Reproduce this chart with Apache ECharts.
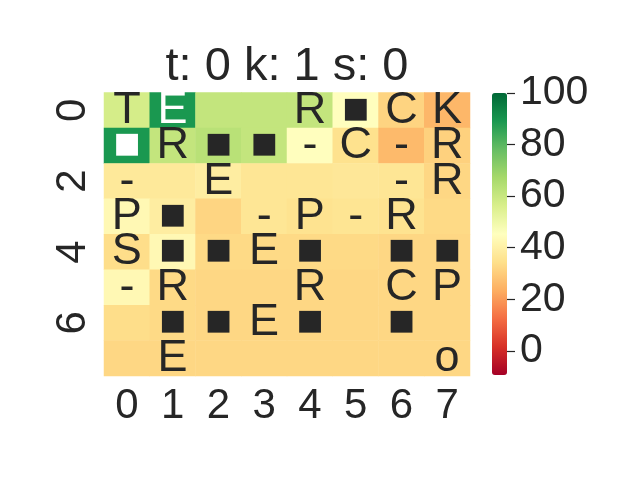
<!DOCTYPE html>
<html>
<head>
<meta charset="utf-8">
<script src="https://cdn.jsdelivr.net/npm/echarts@6/dist/echarts.min.js"></script>
<style>html,body{margin:0;padding:0;background:#fff;}#c{width:640px;height:480px;}</style>
</head>
<body>
<div id="c"></div>
<script>
const xCategories = ['0','1','2','3','4','5','6','7'];
const yCategories = ['0','1','2','3','4','5','6','7'];
// values[row][col]
const values = [
  [57, 89, 61, 61, 61, 45, 31.7, 25.4],
  [89, 61, 63, 61, 45, 35, 26, 31],
  [37.5, 37.5, 39, 36.5, 36.5, 37, 36.5, 32.5],
  [43, 39, 32, 36.5, 35.5, 36, 35.5, 33],
  [34, 43, 33, 33, 33, 33, 32.5, 32.5],
  [43, 33, 32.5, 32.5, 32.5, 32.5, 32.5, 32.5],
  [34, 33, 32.5, 32.5, 32.5, 32.5, 32.5, 32.5],
  [32.5, 32.5, 32.5, 32.5, 32.5, 32.5, 32.5, 32.5]
];
const annotations = [
  ['T','E','','','R','■','C','K'],
  ['■','R','■','■','-','C','-','R'],
  ['-','','E','','','','-','R'],
  ['P','■','','-','P','-','R',''],
  ['S','■','■','E','■','','■','■'],
  ['-','R','','','R','','C','P'],
  ['','■','■','E','■','','■',''],
  ['','E','','','','','','o']
];
const colorbarTicks = [0, 20, 40, 60, 80, 100];
const vmin = -9.4, vmax = 100;
const titleText = 't: 0 k: 1 s: 0';

const rdylgn = ['#a50026','#d73027','#f46d43','#fdae61','#fee08b','#ffffbf','#d9ef8b','#a6d96a','#66bd63','#1a9850','#006837'];

const data = [];
for (let r = 0; r < values.length; r++) {
  for (let c = 0; c < values[r].length; c++) {
    const v = values[r][c];
    data.push({value: [c, r, v], label: {color: v > 75 ? '#ffffff' : '#262626'}});
  }
}

const font = "'Liberation Sans', Arial, 'DejaVu Sans', sans-serif";
const chart = echarts.init(document.getElementById('c'), null, {renderer: 'canvas'});
chart.setOption({
  backgroundColor: '#ffffff',
  animation: false,
  graphic: [{
    type: 'text', x: 287, y: 67,
    style: {text: titleText, fontSize: 47, fontFamily: font, fill: '#262626', align: 'center', verticalAlign: 'middle'}
  }],
  grid: [
    {left: 104, top: 92.5, width: 366, height: 283.5},
    {left: 492, top: 93, width: 15, height: 282}
  ],
  xAxis: [
    {type: 'category', data: xCategories, gridIndex: 0, position: 'bottom',
     axisLine: {show: false}, axisTick: {show: false}, splitLine: {show: false},
     axisLabel: {fontSize: 42, color: '#262626', margin: 9, fontFamily: font}},
    {type: 'category', data: ['a'], gridIndex: 1, show: false}
  ],
  yAxis: [
    {type: 'category', data: yCategories, gridIndex: 0, inverse: true,
     axisLine: {show: false}, axisTick: {show: false}, splitLine: {show: false},
     axisLabel: {interval: 1, rotate: 90, fontSize: 42, color: '#262626', margin: 10, fontFamily: font}},
    {type: 'value', gridIndex: 1, min: vmin, max: vmax, position: 'right',
     axisLine: {show: false}, splitLine: {show: false},
     axisTick: {show: true, length: 8, customValues: colorbarTicks, lineStyle: {color: '#262626', width: 1.2}},
     axisLabel: {customValues: colorbarTicks, fontSize: 41, color: '#262626', margin: 13, fontFamily: font}}
  ],
  visualMap: {
    type: 'continuous', min: vmin, max: vmax, seriesIndex: 0,
    left: 492, top: 93, itemWidth: 15, itemHeight: 282, padding: 0,
    calculable: false, text: null, showLabel: false, hoverLink: false,
    inRange: {color: rdylgn}
  },
  series: [{
    type: 'heatmap', xAxisIndex: 0, yAxisIndex: 0, data: data,
    label: {
      show: true, fontSize: 45, fontFamily: font,
      formatter: p => annotations[p.value[1]][p.value[0]]
    },
    itemStyle: {borderWidth: 0},
    emphasis: {disabled: true}
  }]
});
</script>
</body>
</html>
